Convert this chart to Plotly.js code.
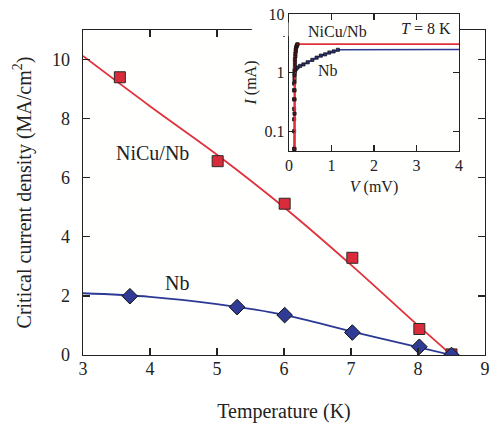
<!DOCTYPE html>
<html>
<head>
<meta charset="utf-8">
<script src="https://cdn.plot.ly/plotly-3.0.1.min.js"></script>
<style>html,body{margin:0;padding:0;background:#fff;}#chart{width:493px;height:425px;}</style>
</head>
<body>
<div id="chart"></div>
<script>
// Main panel: critical current density vs temperature
var tempNiCu = [3.55, 5.01, 6.01, 7.02, 8.02, 8.5];
var jcNiCu   = [9.40, 6.56, 5.12, 3.29, 0.88, 0.02];
var tempNb   = [3.70, 5.30, 6.01, 7.02, 8.02, 8.5];
var jcNb     = [1.99, 1.62, 1.35, 0.76, 0.28, 0.0];
// fitted curves
var fitTempNiCu = [3, 4, 5, 6, 7, 8, 8.5];
var fitJcNiCu   = [10.12, 8.42, 6.78, 5.0, 3.05, 1.0, 0];
var fitTempNb   = [3, 4, 5, 6, 7, 8, 8.5];
var fitJcNb     = [2.09, 1.97, 1.72, 1.36, 0.80, 0.27, 0];

// Inset: I-V curves at T = 8 K
var ivVNiCu = [0.13,0.13,0.13,0.13,0.13,0.13,0.13,0.14,0.14,0.14,0.15,0.15,0.16,0.16,0.17,0.18,0.19,0.2];
var ivINiCu = [0.05,0.2,0.35,0.5,0.7,0.9,1.1,1.3,1.5,1.7,1.9,2.1,2.3,2.5,2.7,2.85,2.95,3.05];
var lineVNiCu = [0.14, 0.14, 0.2, 4];
var lineINiCu = [0.04, 2.5, 3.07, 3.07];
var ivVNb = [0.12,0.12,0.12,0.12,0.12,0.12,0.12,0.13,0.13,0.14,0.16,0.2,0.26,0.34,0.44,0.55,0.65,0.75,0.85,0.95,1.05,1.15];
var ivINb = [0.05,0.1,0.16,0.24,0.35,0.5,0.65,0.8,0.95,1.05,1.15,1.22,1.3,1.38,1.5,1.65,1.8,1.95,2.05,2.2,2.3,2.45];
var lineVNb = ivVNb.concat([4]);
var lineINb = ivINb.concat([2.48]);

var mainTicksX = [3,4,5,6,7,8,9];
var mainTicksY = [0,2,4,6,8,10];
var insetTicksX = [0,1,2,3,4];
var insetTicksY = [0.1,1,10];
var insetTickText = ['0.1','1','10'];

var RED = '#e0313c', BLUE = '#2c3994', INK = '#222222';
var FONT = 'Liberation Serif, Times New Roman, serif';

var traces = [
  {x: fitTempNiCu, y: fitJcNiCu, mode: 'lines', line: {color: RED, width: 1.8, shape: 'spline'}, xaxis: 'x', yaxis: 'y', hoverinfo: 'skip'},
  {x: fitTempNb, y: fitJcNb, mode: 'lines', line: {color: BLUE, width: 1.8, shape: 'spline'}, xaxis: 'x', yaxis: 'y', hoverinfo: 'skip'},
  {x: tempNiCu, y: jcNiCu, mode: 'markers', marker: {symbol: 'square', size: 11, color: '#d92b3a', line: {color: '#2a2a2a', width: 1}}, xaxis: 'x', yaxis: 'y'},
  {x: tempNb, y: jcNb, mode: 'markers', marker: {symbol: 'diamond', size: 12, color: '#2f3b94', line: {color: '#111111', width: 1}}, xaxis: 'x', yaxis: 'y'},
  // inset
  {x: lineVNb, y: lineINb, mode: 'lines', line: {color: BLUE, width: 1.6}, xaxis: 'x2', yaxis: 'y2', hoverinfo: 'skip'},
  {x: ivVNb, y: ivINb, mode: 'markers', marker: {symbol: 'square', size: 3.2, color: '#2a3070', line: {color: '#111111', width: 0.7}}, xaxis: 'x2', yaxis: 'y2'},
  {x: lineVNiCu, y: lineINiCu, mode: 'lines', line: {color: RED, width: 1.8}, xaxis: 'x2', yaxis: 'y2', hoverinfo: 'skip'},
  {x: ivVNiCu, y: ivINiCu, mode: 'markers', marker: {symbol: 'square', size: 3.2, color: '#551518', line: {color: '#111111', width: 0.7}}, xaxis: 'x2', yaxis: 'y2'}
];

var layout = {
  width: 493, height: 425,
  margin: {l: 83, r: 8, t: 14, b: 70},
  paper_bgcolor: '#ffffff',
  plot_bgcolor: '#fffffe',
  showlegend: false,
  font: {family: FONT, color: INK, size: 18},
  xaxis: {
    domain: [0, 1], anchor: 'y', range: [3, 9], tickvals: mainTicksX,
    ticks: 'inside', ticklen: 7, tickwidth: 1.2, tickcolor: INK,
    showline: true, linecolor: INK, linewidth: 1.3, mirror: 'ticks',
    showgrid: false, zeroline: false,
    ticklabelstandoff: -3,
    tickfont: {size: 18, family: FONT, color: INK},
    title: {text: 'Temperature (K)', font: {size: 20, family: FONT, color: INK}, standoff: 26}
  },
  yaxis: {
    domain: [0, 0.9531], anchor: 'x', range: [0, 11], tickvals: mainTicksY,
    ticks: 'inside', ticklen: 7, tickwidth: 1.2, tickcolor: INK,
    showline: true, linecolor: INK, linewidth: 1.3, mirror: 'ticks',
    showgrid: false, zeroline: false,
    tickfont: {size: 18, family: FONT, color: INK},
    ticklabelstandoff: 8,
    title: {text: 'Critical current density (MA/cm<sup>2</sup>)', font: {size: 20, family: FONT, color: INK}, standoff: 15}
  },
  xaxis2: {
    domain: [0.5124, 0.9353], anchor: 'y2', range: [0, 4], tickvals: insetTicksX,
    ticks: 'inside', ticklen: 6, tickwidth: 1.1, tickcolor: INK,
    showline: true, linecolor: INK, linewidth: 1.2, mirror: 'ticks',
    showgrid: false, zeroline: false,
    tickfont: {size: 16, family: FONT, color: INK},
    title: {text: '<i>V</i> (mV)', font: {size: 16, family: FONT, color: INK}, standoff: 7}
  },
  yaxis2: {
    domain: [0.5982, 1], anchor: 'x2', type: 'log', range: [-1.337, 1],
    tickvals: insetTicksY, ticktext: insetTickText,
    ticks: 'inside', ticklen: 6, tickwidth: 1.1, tickcolor: INK,
    showline: true, linecolor: INK, linewidth: 1.2, mirror: 'ticks',
    showgrid: false, zeroline: false,
    tickfont: {size: 16, family: FONT, color: INK},
    title: {text: '<i>I</i> (mA)', font: {size: 16, family: FONT, color: INK}, standoff: 4}
  },
  shapes: [
    {type: 'rect', xref: 'paper', yref: 'paper', x0: 0.420, x1: 0.511, y0: 0.935, y1: 0.975,
     fillcolor: '#ffffff', line: {width: 0}, layer: 'above'}
  ],
  annotations: [
    {x: 4.03, y: 6.82, xref: 'x', yref: 'y', text: 'NiCu/Nb', showarrow: false, font: {size: 20, family: FONT, color: INK}},
    {x: 4.40, y: 2.43, xref: 'x', yref: 'y', text: 'Nb', showarrow: false, font: {size: 20, family: FONT, color: INK}},
    {x: 1.13, y: Math.log10(5.1), xref: 'x2', yref: 'y2', text: 'NiCu/Nb', showarrow: false, font: {size: 16, family: FONT, color: INK}},
    {x: 0.92, y: Math.log10(1.1), xref: 'x2', yref: 'y2', text: 'Nb', showarrow: false, font: {size: 16, family: FONT, color: INK}},
    {x: 3.86, y: Math.log10(5.76), xref: 'x2', yref: 'y2', xanchor: 'right', text: '<i>T</i> = 8 K', showarrow: false, font: {size: 16, family: FONT, color: INK}}
  ]
};

Plotly.newPlot('chart', traces, layout, {displayModeBar: false, staticPlot: true});
</script>
</body>
</html>
